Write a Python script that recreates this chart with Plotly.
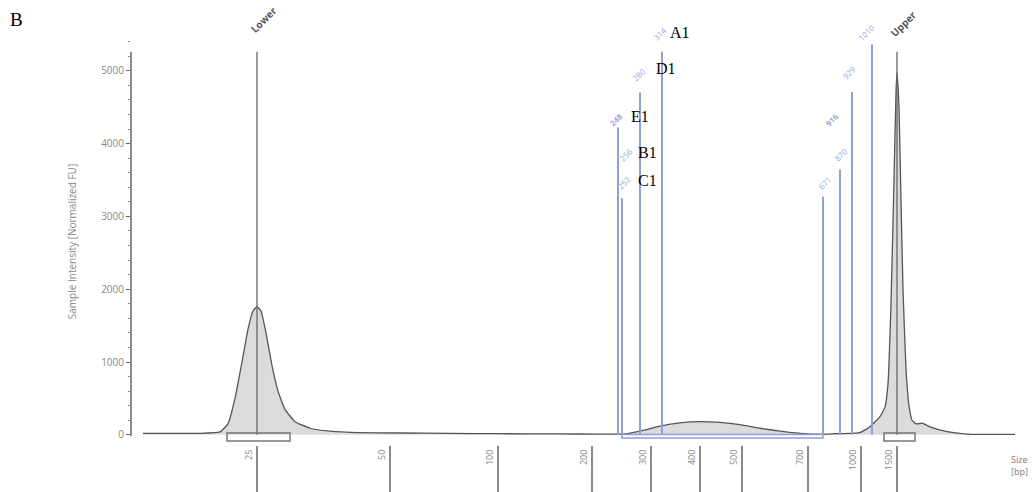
import plotly.graph_objects as go

# ---- data (migration position) ----
trace_pos = [143, 200, 220, 228, 235, 242, 248, 253, 257, 261, 266, 272, 278, 285, 295, 310, 330, 360,
             400, 450, 500, 560, 598, 612, 625, 640, 660, 680, 700, 720, 740, 760, 780, 800, 823,
             835, 850, 860, 870, 880, 885, 888, 891, 894, 896, 897, 899, 901, 903, 906, 909, 912,
             916, 922, 930, 945, 968, 1020]
trace_val = [20, 20, 40, 150, 500, 1000, 1450, 1700, 1760, 1700, 1400, 950, 600, 350, 180, 90, 50, 30,
             25, 20, 15, 12, 10, 8, 12, 50, 120, 165, 180, 170, 140, 90, 50, 20, 8,
             15, 20, 30, 110, 250, 380, 700, 1800, 3500, 4700, 4970, 4500, 3200, 2000, 900, 400, 200,
             150, 160, 110, 50, 10, 5]

tick_pos = [257, 390, 498, 592, 651, 700, 742, 808, 861, 897]
tick_text = ["25", "50", "100", "200", "300", "400", "500", "700", "1000", "1500"]

ladder_pos = [257, 897]
ladder_height = [5260, 5260]
ladder_names = ["Lower", "Upper"]
ladder_label_x = [263, 903]
ladder_label_y = [5700, 5640]

marker_pos = [618, 622, 640, 662, 823, 840, 852, 872]
marker_height = [4220, 3250, 4700, 5260, 3270, 3640, 4710, 5360]

size_labels = ["248", "256", "252", "280", "314", "671", "870", "916", "929", "1010"]
size_label_x = [616, 626, 624, 639, 660, 825, 841, 832, 849, 866]
size_label_y = [4327, 3846, 3462, 4945, 5508, 3462, 3846, 4327, 4973, 5522]
size_label_bold = [True, False, False, False, False, False, False, True, False, False]

sample_names = ["A1", "D1", "E1", "B1", "C1"]
sample_x = [680, 666, 640, 647, 647]
sample_y = [5522, 5027, 4368, 3874, 3489]

box_x0 = [227, 622, 884]
box_x1 = [290, 823, 915]
box_y0 = [-85, -45, -85]
box_y1 = [25, 5, 25]
box_color = ["#777777", "#8f9fd8", "#777777"]

Y_MIN, Y_MAX = -140, 5450
PX_PER_UNIT = 407 / (Y_MAX - Y_MIN)

BLUE = "#8f9fd8"

fig = go.Figure()

fig.add_trace(go.Scatter(x=trace_pos, y=trace_val, mode="lines",
                         line=dict(color="#555555", width=1.3, shape="spline", smoothing=0.4),
                         fill="tozeroy", fillcolor="rgba(200,200,200,0.65)",
                         hoverinfo="skip", showlegend=False))

for p, h in zip(marker_pos, marker_height):
    fig.add_trace(go.Scatter(x=[p, p], y=[0, h], mode="lines",
                             line=dict(color=BLUE, width=2), hoverinfo="skip", showlegend=False))

for p, h in zip(ladder_pos, ladder_height):
    fig.add_trace(go.Scatter(x=[p, p], y=[0, h], mode="lines",
                             line=dict(color="#666666", width=1.3), hoverinfo="skip", showlegend=False))

shapes = []
for x0, x1, y0, y1, c in zip(box_x0, box_x1, box_y0, box_y1, box_color):
    shapes.append(dict(type="rect", xref="x", yref="y", x0=x0, x1=x1, y0=y0, y1=y1,
                       line=dict(color=c, width=1.5), fillcolor="rgba(0,0,0,0)"))
# y axis line
shapes.append(dict(type="line", xref="paper", yref="y", x0=0, x1=0, y0=-20, y1=5260,
                   line=dict(color="#666666", width=1.5)))


def ann_y(v):
    """keep annotation anchor inside axis range, shift the rest in pixels"""
    yy = min(v, Y_MAX - 1)
    return yy, (v - yy) * PX_PER_UNIT


annotations = []
for name, x, y in zip(ladder_names, ladder_label_x, ladder_label_y):
    yy, sh = ann_y(y)
    annotations.append(dict(x=x, y=yy, yshift=sh, xref="x", yref="y", text=f"<b>{name}</b>",
                            showarrow=False, textangle=-45, xanchor="center", yanchor="middle",
                            font=dict(family="Open Sans", size=10, color="#555555")))
for t, x, y, b in zip(size_labels, size_label_x, size_label_y, size_label_bold):
    yy, sh = ann_y(y)
    annotations.append(dict(x=x, y=yy, yshift=sh, xref="x", yref="y",
                            text=f"<b>{t}</b>" if b else t,
                            showarrow=False, textangle=-45, xanchor="center", yanchor="middle",
                            font=dict(family="Open Sans", size=8, color="#9aa8dc")))
for t, x, y in zip(sample_names, sample_x, sample_y):
    yy, sh = ann_y(y)
    annotations.append(dict(x=x, y=yy, yshift=sh, xref="x", yref="y", text=t, showarrow=False,
                            xanchor="center", yanchor="middle",
                            font=dict(family="Liberation Serif", size=16, color="#000000")))
annotations.append(dict(x=(1019 - 131) / 884, xref="paper", y=-0.015, yref="paper",
                        text="Size<br>[bp]", showarrow=False, xanchor="center", yanchor="top",
                        align="left", font=dict(family="Open Sans", size=9, color="#777777")))
annotations.append(dict(x=(17 - 131) / 884, y=1 + (38 - 20) / 407, xref="paper", yref="paper",
                        text="B", showarrow=False, xanchor="center", yanchor="middle",
                        font=dict(family="Liberation Serif", size=19, color="#000000")))

fig.update_layout(
    width=1035, height=492,
    margin=dict(l=131, r=20, t=38, b=47),
    paper_bgcolor="white", plot_bgcolor="white",
    shapes=shapes, annotations=annotations,
    xaxis=dict(range=[131, 1015], tickvals=tick_pos, ticktext=tick_text, tickangle=-90,
               ticks="outside", ticklen=47, tickwidth=1.5, tickcolor="#8a8a8a",
               ticklabelstandoff=-47, ticklabelshift=-8, automargin=False,
               showgrid=False, zeroline=False, showline=False,
               tickfont=dict(family="Open Sans", size=9, color="#888888")),
    yaxis=dict(range=[Y_MIN, Y_MAX], tickvals=[0, 1000, 2000, 3000, 4000, 5000],
               ticks="outside", ticklen=4, tickcolor="#666666", automargin=False,
               minor=dict(dtick=200, ticks="outside", ticklen=2, tickcolor="#888888"),
               showgrid=False, zeroline=False, showline=False,
               tickfont=dict(family="Open Sans", size=10, color="#888888"),
               title=dict(text="Sample Intensity [Normalized FU]", standoff=22,
                          font=dict(family="Open Sans", size=10, color="#888888"))),
)

fig.write_html("out.html", config={"displayModeBar": False},
               post_script="document.body.style.margin='0';")
